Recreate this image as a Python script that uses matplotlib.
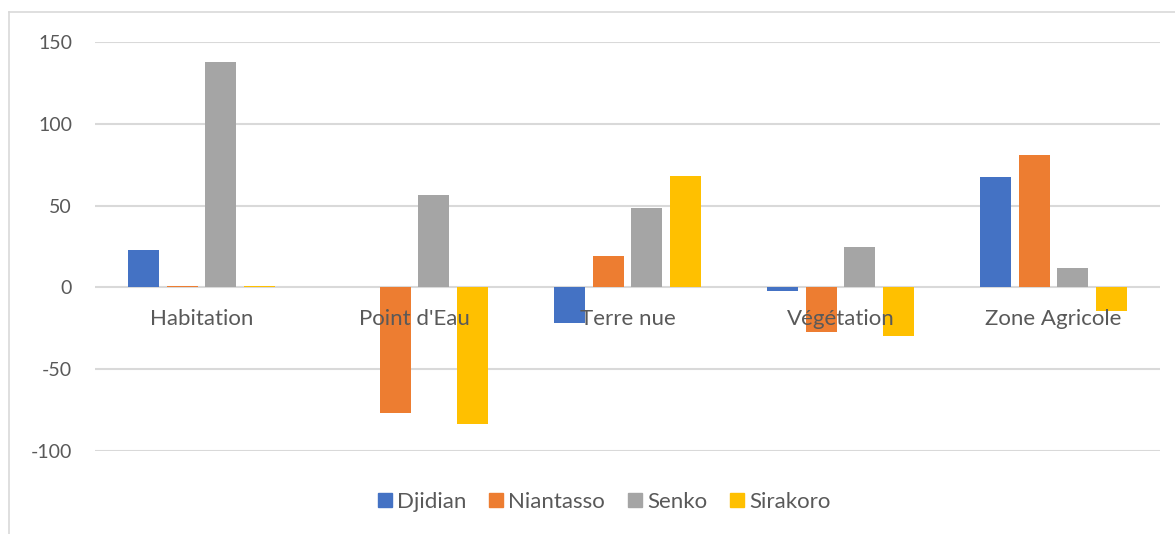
import matplotlib.pyplot as plt
import numpy as np
from matplotlib.lines import Line2D

categories = ["Habitation", "Point d'Eau", "Terre nue", "Végétation", "Zone Agricole"]
series_names = ["Djidian", "Niantasso", "Senko", "Sirakoro"]
djidian = [22.7, 0, -21.5, -2.5, 67.4]
niantasso = [1.0, -77.0, 19.0, -27.5, 80.8]
senko = [137.5, 56.3, 48.4, 24.5, 11.6]
sirakoro = [1.0, -83.3, 68.0, -29.5, -14.7]
yticks = [-100, -50, 0, 50, 100, 150]

colors = ["#4472C4", "#ED7D31", "#A5A5A5", "#FFC000"]
text_col = "#595959"
grid_col = "#D9D9D9"
plt.rcParams['font.family'] = ['Lato', 'DejaVu Sans']

fig = plt.figure(figsize=(11.75, 5.34), dpi=100)
ax = fig.add_axes([95/1175, 1 - 451/534, (1160 - 95)/1175, (451 - 42)/534])

x = np.arange(len(categories))
step = 0.182
width = 0.146
all_vals = [djidian, niantasso, senko, sirakoro]
for i, vals in enumerate(all_vals):
    ax.bar(x + (i - 1.5) * step, vals, width, color=colors[i], zorder=2,
           label=series_names[i])

ax.set_xlim(-0.5, len(categories) - 0.5)
ax.set_ylim(-100, 150)
ax.set_yticks(yticks)
ax.set_yticklabels([str(v) for v in yticks], color=text_col, fontsize=14)
ax.tick_params(axis='y', length=0, pad=16.5)
ax.set_xticks([])
for s in ax.spines.values():
    s.set_visible(False)
ax.grid(axis='y', color=grid_col, linewidth=1.5, zorder=0)
ax.set_axisbelow(True)

for i, c in enumerate(categories):
    ax.text(x[i], -19.6, c, ha='center', va='center', color=text_col,
            fontsize=16, zorder=5)

handles = [Line2D([0], [0], marker='s', linestyle='', markersize=10,
                  color=colors[i]) for i in range(4)]
fig.legend(handles, series_names, loc='center', bbox_to_anchor=(0.512, 1 - 502/534),
           ncol=4, frameon=False, fontsize=16, handletextpad=0.0,
           handlelength=1.08, columnspacing=0.81, labelcolor=text_col)

# chart area border
fig.add_artist(Line2D([9/1175, 9/1175], [0, 1 - 12/534], color=grid_col,
                      linewidth=1.2, transform=fig.transFigure))
fig.add_artist(Line2D([9/1175, 1], [1 - 12/534, 1 - 12/534], color=grid_col,
                      linewidth=1.2, transform=fig.transFigure))

fig.savefig("out.png", dpi=100)
